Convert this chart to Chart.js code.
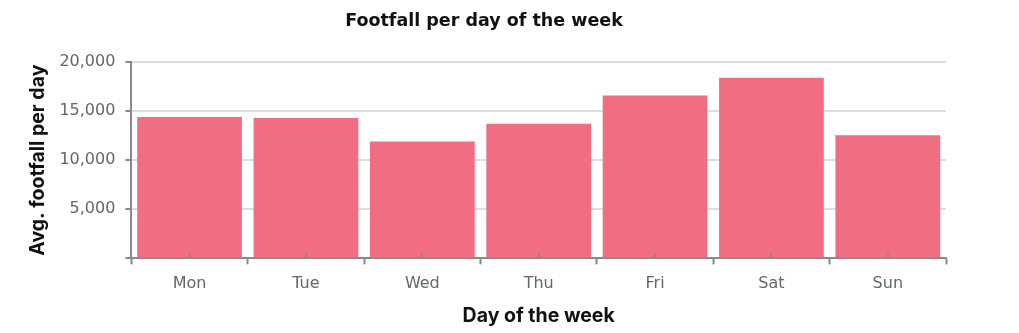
<!DOCTYPE html>
<html>
<head>
<meta charset="utf-8">
<script src="https://cdn.jsdelivr.net/npm/chart.js@4"></script>
<style>
html,body{margin:0;padding:0;background:#fff;}
#wrap{width:966px;height:333px;position:relative;}
</style>
</head>
<body>
<div id="wrap"><canvas id="c"></canvas></div>
<script>
const categories = ["Mon","Tue","Wed","Thu","Fri","Sat","Sun"];
const footfall = [14400, 14300, 11900, 13700, 16600, 18400, 12550];
const yTicks = [0, 5000, 10000, 15000, 20000];

const centerTicks = {
  id: 'centerTicks',
  afterDraw(chart) {
    const x = chart.scales.x, ctx = chart.ctx;
    const y0 = x.top;
    ctx.save();
    ctx.strokeStyle = '#888';
    ctx.lineWidth = 2;
    categories.forEach((c, i) => {
      const px = Math.round(x.getPixelForValue(i));
      ctx.beginPath();
      ctx.moveTo(px, y0);
      ctx.lineTo(px, y0 - 5);
      ctx.stroke();
    });
    ctx.restore();
  }
};

new Chart(document.getElementById('c'), {
  type: 'bar',
  data: {
    labels: categories,
    datasets: [{
      data: footfall,
      backgroundColor: '#F06D82',
      borderWidth: 0,
      barPercentage: 0.9,
      categoryPercentage: 1.0
    }]
  },
  options: {
    responsive: true,
    maintainAspectRatio: false,
    animation: false,
    layout: { padding: { left: 22, right: 20, top: 7, bottom: 2 } },
    plugins: {
      legend: { display: false },
      tooltip: { enabled: false },
      title: {
        display: true,
        text: 'Footfall per day of the week',
        color: '#111',
        font: { family: 'DejaVu Sans', weight: 'bold', size: 17.5 },
        padding: { top: 4, bottom: 30 }
      }
    },
    scales: {
      x: {
        offset: true,
        grid: { display: true, drawOnChartArea: false, offset: true, tickLength: 6, tickColor: '#888', tickWidth: 2 },
        border: { color: '#888', width: 2 },
        ticks: { color: '#666', font: { family: 'DejaVu Sans', size: 16 }, padding: 10 },
        title: { display: true, text: 'Day of the week', color: '#111', font: { family: 'Inter', weight: 'bold', size: 19.5 }, padding: { top: 1, bottom: 3 } }
      },
      y: {
        min: 0,
        max: 20000,
        afterBuildTicks(scale) { scale.ticks = yTicks.map(v => ({ value: v })); },
        grid: { color: '#ddd', lineWidth: 2, tickLength: 6, tickColor: '#888', tickWidth: 2 },
        border: { color: '#888', width: 2 },
        ticks: {
          color: '#666',
          font: { family: 'DejaVu Sans', size: 16 },
          padding: 10,
          callback: v => v === 0 ? '' : v.toLocaleString('en-US')
        },
        title: { display: true, text: 'Avg. footfall per day', color: '#111', font: { family: 'Inter', weight: 'bold', size: 19.5 }, padding: { top: 4, bottom: 0 } }
      }
    }
  },
  plugins: [centerTicks]
});
</script>
</body>
</html>
